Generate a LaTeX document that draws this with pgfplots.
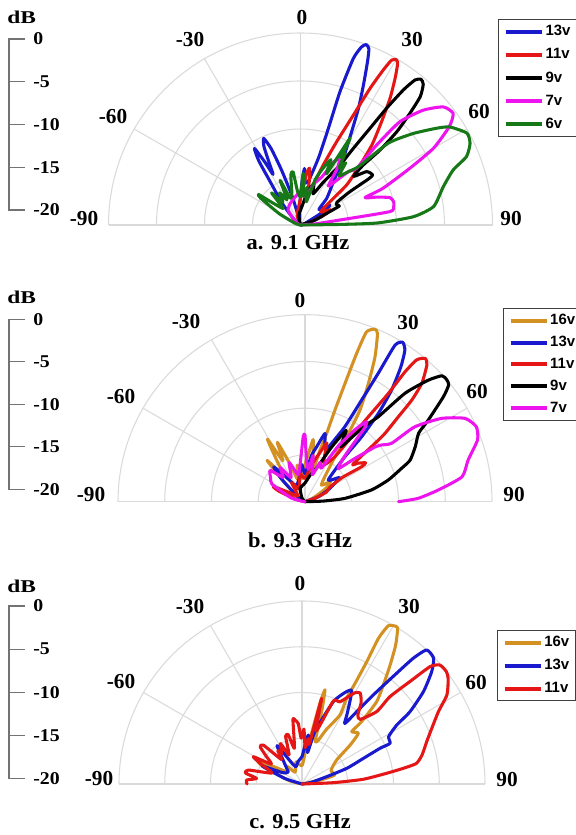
\documentclass[border=0pt]{standalone}
\usepackage{pgfplots}
\pgfplotsset{compat=1.18}
\usepackage{pgfplotstable}
\usepackage{graphicx}
\usepackage{fontspec}
\setmainfont{Liberation Serif}
\newfontfamily\legfont{Liberation Sans}
\definecolor{cblue}{RGB}{25,25,205}
\definecolor{cred}{RGB}{228,22,22}
\definecolor{cmag}{RGB}{238,20,238}
\definecolor{cgreen}{RGB}{22,120,22}
\definecolor{corange}{RGB}{212,145,35}
\definecolor{gridc}{RGB}{218,218,218}

% ---------- panel a (9.1 GHz): angle a in degrees, level d in dB ----------
\pgfplotstableread{
a d
-90 -20
-60 -20
-48 -19
-40 -17
-35 -14.5
-33 -12
-31 -10.7
-29.5 -12.5
-28.5 -14
-27 -13
-25 -11
-23 -10.2
-21 -11.5
-19 -14
-16 -17
-10 -19.5
-3 -18
2 -15.5
4 -14.1
6 -15.5
10 -15.4
15 -12.8
16.1 -9.5
16.5 -5.5
17.6 -1.8
18.9 -0.4
20 0
21.2 -0.3
22.3 -1.6
24.2 -4
26.4 -6.4
28.7 -8.9
32.7 -11.75
37.2 -14.3
44.5 -16.1
50 -17.5
56 -16.3
60 -17.3
70 -19.5
90 -20
}\aBlue
\pgfplotstableread{
a d
-90 -20
-40 -20
-20 -19
-5 -18
3 -16.5
7 -14.5
9 -14
11 -15
14 -17
17.8 -15.6
20.8 -13.3
23.5 -10.5
25.7 -7.3
27 -4
28.1 -1.7
28.9 -0.4
30 -0.1
31 -0.35
32.8 -1.8
35.2 -3.8
38.1 -6.3
41.7 -8.8
44.8 -11.2
49 -13.6
51.7 -16.1
57 -17.5
63 -16.5
68 -17.5
75 -19
90 -20
}\aRed
\pgfplotstableread{
a d
-90 -20
-30 -20
-10 -19
5 -18
12 -16.5
18 -15.5
22 -16.5
28 -15
33.4 -12.5
34.6 -10.3
35.7 -7.6
36.4 -4.9
37.3 -2.3
38.3 -0.75
39.6 -0.3
41.1 -0.55
43 -1.7
44.4 -3.7
45.9 -6
46.7 -8.6
46.3 -10.95
47.5 -12.5
51.1 -11.15
55.3 -10.85
55.9 -11.5
56 -13.8
58 -15.5
61 -15.7
64 -15.5
66 -17
72 -18.5
90 -20
}\aBlack
\pgfplotstableread{
a d
-90 -20
-60 -19.5
-40 -18
-25 -17.5
-10 -17
0 -16.5
10 -17
18 -15.5
24 -14.5
28 -12.5
30.6 -11.9
33 -13
35.5 -15
39 -14
42 -12.5
44.7 -11.7
43.6 -8.5
43.9 -5.1
46.9 -2.5
50.4 -0.7
53.8 -0.3
56.5 -1.4
60 -4
62.6 -7.2
66 -10.6
67 -12.7
70 -11.5
73 -10.25
76 -10
78.8 -10.1
81.5 -10.6
82.8 -15.9
86 -18.5
90 -20
}\aMag
\pgfplotstableread{
a d
-90 -20
-75 -19.5
-62 -17.5
-56 -15
-54 -14.6
-51 -16.5
-46 -17.5
-42 -15.5
-38 -17
-33 -16
-28 -17
-24.5 -14.9
-21 -17
-15 -16.5
-11 -14.7
-8 -14.4
-5 -16.5
0 -17
3 -14.6
6 -17
10 -16
14 -17.5
18 -15
22 -13.5
25 -12.5
27 -14
29.7 -9.6
31 -11.8
32 -11.2
34 -12.8
36 -12
38 -13.5
42 -12.5
45 -11.3
47 -7.5
50.9 -4.9
54.6 -2.6
56.7 -1.4
61.1 -0.2
64.3 -0.4
67.6 -1.3
70.2 -3.1
75 -4.6
82.1 -6
85.8 -8.2
88.5 -12
89.2 -16
90 -20
}\aGreen

% ---------- panel b (9.3 GHz) ----------
\pgfplotstableread{
a d
-90 -20
-60 -19.5
-48 -17.5
-42.6 -14
-39 -16.5
-35 -15
-31 -12.2
-28.5 -15
-25 -13
-22 -15.5
-18 -17.5
-12 -16
-6 -17.5
0 -16
5 -14.5
7.5 -13.3
10 -15
13 -17
15 -16
16.2 -14.25
17.6 -12.3
18.1 -9.7
18.7 -6.6
19.2 -3.2
19.9 -0.7
22 -0.1
23.3 -0.4
25.8 -2.8
28.2 -5.65
31 -8.6
32.4 -11.35
33.7 -14.2
38 -16.5
45 -17.5
52 -16.5
58 -17.5
65 -19
90 -20
}\bOrange
\pgfplotstableread{
a d
-90 -20
-55 -19
-46 -16.5
-42 -15
-38 -16.5
-30 -18
-15 -17.5
-5 -16
0 -17
8 -15
12 -14
16.3 -12.4
19 -13.5
22 -14
24.6 -13.1
28 -10.9
29.1 -7.6
29.7 -4.2
29.9 -0.7
31.5 0
33.4 -0.6
35.4 -2.3
37.8 -4.9
39.7 -7.7
41.1 -10.8
41.6 -13.6
47 -16.6
55 -15.5
62 -17
70 -18.5
90 -20
}\bBlue
\pgfplotstableread{
a d
-90 -20
-75 -19
-68 -17
-64.6 -16.25
-60 -18
-50 -19
-35 -17.5
-25 -18.5
-10 -17
0 -17.5
10 -16
17 -14.5
20.4 -13.3
24 -15
28 -15.5
33.7 -14.2
35.7 -11.4
36.7 -8.7
37.6 -5.4
37.6 -2.5
38.2 -0.7
40 0
41.7 -0.4
44.6 -2.2
46.4 -4.2
47.7 -6.5
49.5 -8.75
50.2 -10.3
52 -13.5
54 -13
57.3 -12.3
58.3 -12.9
57 -15.2
60 -17
66 -17.5
72 -19
90 -20
}\bRed
\pgfplotstableread{
a d
-90 -20
-40 -19.5
-20 -18.5
0 -18
12 -17
20 -16
26 -13.5
30 -11.2
33 -13
36 -11.5
38.5 -9.5
40.8 -8
42.7 -4.2
45.4 -1.5
47.4 -0.1
49.3 0
50.9 -0.2
52.8 -1.4
56.5 -4.2
58.9 -5.8
63.4 -6.8
68.4 -7.9
71 -9.1
75.4 -10.8
80 -12.8
85.2 -15.7
88 -18
90 -20
}\bBlack
\pgfplotstableread{
a d
-90 -20
-75 -18.5
-62 -16
-55 -15.5
-48 -15
-42 -16.5
-36 -15.5
-30 -17
-22 -15.5
-14 -17
-6 -15.5
-1.5 -13
0 -12.9
2 -15.5
6 -16.5
10 -15
15 -17
21 -15.5
26 -16
31 -13
35 -10.5
37.6 -9.2
39 -10
41 -13.5
45 -15
49 -13
52 -10.5
53.5 -9.8
56 -8.8
55.7 -5.8
58.6 -2.9
62.5 -0.7
66.4 0
70.3 -0.4
75.7 -2
81 -3
85 -5.7
88.3 -7.9
90 -10
}\bMag

% ---------- panel c (9.5 GHz) ----------
\pgfplotstableread{
a d
-90 -20
-75 -18.5
-66 -15.5
-63 -14.6
-58 -16.5
-50 -18
-40 -17.5
-30 -18.5
-15 -17.5
0 -18
6 -16.5
10 -15
12.5 -11
13.7 -9.4
15 -11.5
17 -15
20 -15
24 -13.5
28.8 -11.4
27.5 -9.4
27.8 -7.6
27.9 -4.9
27.7 -2
28.6 -0.3
30.2 0
31.5 0
34 -1.7
36.5 -3.8
39.4 -6
42.2 -7.85
43.7 -10.6
43.5 -12.1
48 -11.7
51 -13.2
55.3 -15.4
65 -16.5
74.7 -16.3
78 -18
90 -20
}\cOrange
\pgfplotstableread{
a d
-90 -20
-72 -18
-65.6 -15.2
-60 -17.5
-50 -18
-40 -17
-33 -15
-28 -17
-20 -18
-10 -17.5
0 -17
5 -15.5
7.4 -14.6
10 -16.5
14 -14
20.8 -10.4
25 -9
27.8 -8.4
30 -9.5
33 -11
35.3 -11.9
37.1 -10.1
38.7 -7.5
40.5 -4.1
41.5 -1.65
42.9 0
46.3 -0.1
49.1 -1.25
52.7 -3.3
56.2 -5.8
58.1 -7.8
61.3 -9.2
65.2 -9.4
65.4 -10.6
67.3 -12.7
70.7 -14.8
73.4 -17.2
80 -19
90 -20
}\cBlue
\pgfplotstableread{
a d
-90 -14
-86 -13.9
-83 -15
-79 -13.7
-75.4 -13.95
-70 -16.5
-64 -15
-60.7 -13.9
-57 -16
-52 -15
-48.4 -13.9
-44.8 -14
-40 -16.5
-36 -15.5
-33.5 -16
-28 -15
-24 -16.5
-19 -14.5
-15.6 -14.4
-12 -16
-8 -12.9
-6 -13
-3.5 -13.4
-1 -15
2 -14
5 -16
8 -15
10.5 -15.5
12.9 -10.4
15 -14
20.7 -10.3
24.8 -10.1
30 -8.5
32.6 -8.2
36 -9
39 -10.3
42 -10.5
45.9 -8.6
45.2 -6.45
46.5 -3.7
47.5 -1
49.2 -0.1
52 0
54.2 -0.3
58.4 -1.4
62 -3.1
65.8 -4.3
71.2 -5.6
76.4 -6.5
79.8 -7.3
81.2 -8.8
82.8 -10.7
85.6 -13.3
87.6 -16.6
90 -20
}\cRed

\newcommand\pp[2]{\addplot[#1] table[x expr={(\thisrow{d}+20)*sin(\thisrow{a})},y expr={(\thisrow{d}+20)*cos(\thisrow{a})}]{#2};}

\pgfplotsset{
  panel/.style={anchor=origin, scale only axis, hide axis, clip=false,
    xmin=-20, xmax=20, ymin=0, ymax=20,
    legend cell align=left,
    legend style={anchor=north west, draw=black!75, line width=0.7pt, fill=white,
      inner xsep=4pt, inner ysep=2.5pt,
      font=\legfont\bfseries\fontsize{11.2}{11.2}\selectfont,
      nodes={inner xsep=0.8pt, inner ysep=2pt}},
    legend image code/.code={\draw[##1, line width=3pt, line cap=butt] (0pt,0pt) -- (27.5pt,0pt);},
  },
  lobe/.style={line width=2.3pt, line join=round, line cap=round, smooth, tension=0.35},
}

\newcommand\labfont{\fontsize{13.5}{13.5}\selectfont\bfseries}
\newcommand\anglab[2]{\node[font=\fontsize{16}{16}\selectfont\bfseries, inner sep=0pt] at (#1) {#2};}
\newcommand\polargrid[3]{%
  \begin{scope}[shift={(#1,#2)}, draw=gridc, line width=0.8pt]
    \foreach \k in {0.25,0.5,0.75,1} {\draw ({#3*\k},0) arc[start angle=0,end angle=180,radius={#3*\k}];}
    \draw (-#3,0) -- (#3,0);
    \foreach \ang in {30,60,90,120,150} {\draw (0,0) -- (\ang:#3);}
  \end{scope}}
\newcommand\dbscale[3]{% ytop, ybottom, y of dB
  \draw[black!55, line width=0.8pt] (25,#1) -- (9,#1) -- (9,#2) -- (25,#2);
  \foreach \i/\t in {0/0,1/-5,2/-10,3/-15,4/-20} {
    \pgfmathsetmacro\yy{#1-(#1-#2)*\i/4}
    \draw[black!55, line width=0.8pt] (9,\yy) -- (25,\yy);
    \node[anchor=west, inner sep=0pt] at (33,\yy) {\labfont\scalebox{1.1}[1]{\t}};
  }
  \node[anchor=west, inner sep=0pt] at (7,#3) {\labfont\scalebox{1.3}[1]{dB}};}

\begin{document}
\begin{tikzpicture}[x=0.75pt,y=0.75pt]
\useasboundingbox (0,0) rectangle (575,835);

% grids
\polargrid{300.5}{610}{192}
\polargrid{305}{333.3}{187}
\polargrid{302}{51}{183}

\coordinate (ca) at (300.5,610);
\coordinate (cb) at (305,333.3);
\coordinate (cc) at (302,51);

% ---- panel a ----
\begin{axis}[panel, at={(ca)}, width=288pt, height=144pt,
  legend style={at={(1.0143,1.0729)}, row sep=4.1pt}]
\pp{cblue, lobe}{\aBlue}\addlegendentry{13v\hspace{9pt}}
\pp{cred, lobe}{\aRed}\addlegendentry{11v}
\pp{black, lobe}{\aBlack}\addlegendentry{9v}
\pp{cmag, lobe}{\aMag}\addlegendentry{7v}
\pp{cgreen, lobe}{\aGreen}\addlegendentry{6v}
\end{axis}

% ---- panel b ----
\begin{axis}[panel, at={(cb)}, width=280.5pt, height=140.25pt,
  legend style={at={(1.0286,1.036)}, row sep=3.1pt}]
\pp{corange, lobe}{\bOrange}\addlegendentry{16v\hspace{8pt}}
\pp{cblue, lobe}{\bBlue}\addlegendentry{13v}
\pp{cred, lobe}{\bRed}\addlegendentry{11v}
\pp{black, lobe}{\bBlack}\addlegendentry{9v}
\pp{cmag, lobe}{\bMag}\addlegendentry{7v}
\end{axis}

% ---- panel c ----
\begin{axis}[panel, at={(cc)}, width=274.5pt, height=137.25pt,
  legend style={at={(1.032,0.8415)}, row sep=3.9pt}]
\pp{corange, lobe}{\cOrange}\addlegendentry{16v\hspace{9pt}}
\pp{cblue, lobe}{\cBlue}\addlegendentry{13v}
\pp{cred, lobe}{\cRed}\addlegendentry{11v}
\end{axis}

% dB scales
\dbscale{796}{625}{818}
\dbscale{515.7}{345.7}{538}
\dbscale{229}{56.7}{249}

% angle labels
\anglab{302,817}{0}
\anglab{190,795}{-30}
\anglab{113,718}{-60}
\anglab{84,616}{-90}
\anglab{412,795}{30}
\anglab{479,723}{60}
\anglab{511,616}{90}

\anglab{300,534}{0}
\anglab{186,513}{-30}
\anglab{121,438}{-60}
\anglab{91,340}{-90}
\anglab{408,512}{30}
\anglab{477,443}{60}
\anglab{514,340}{90}

\anglab{300,251}{0}
\anglab{190,228}{-30}
\anglab{121,153}{-60}
\anglab{99,56}{-90}
\anglab{409,228}{30}
\anglab{476,152}{60}
\anglab{507,55}{90}

% captions
\node[font=\fontsize{16}{16}\selectfont\bfseries] at (298,592) {\scalebox{1.05}[1]{a. 9.1 GHz}};
\node[font=\fontsize{16}{16}\selectfont\bfseries] at (300,295) {\scalebox{1.05}[1]{b. 9.3 GHz}};
\node[font=\fontsize{16}{16}\selectfont\bfseries] at (300,13) {\scalebox{1.05}[1]{c. 9.5 GHz}};
\end{tikzpicture}
\end{document}
